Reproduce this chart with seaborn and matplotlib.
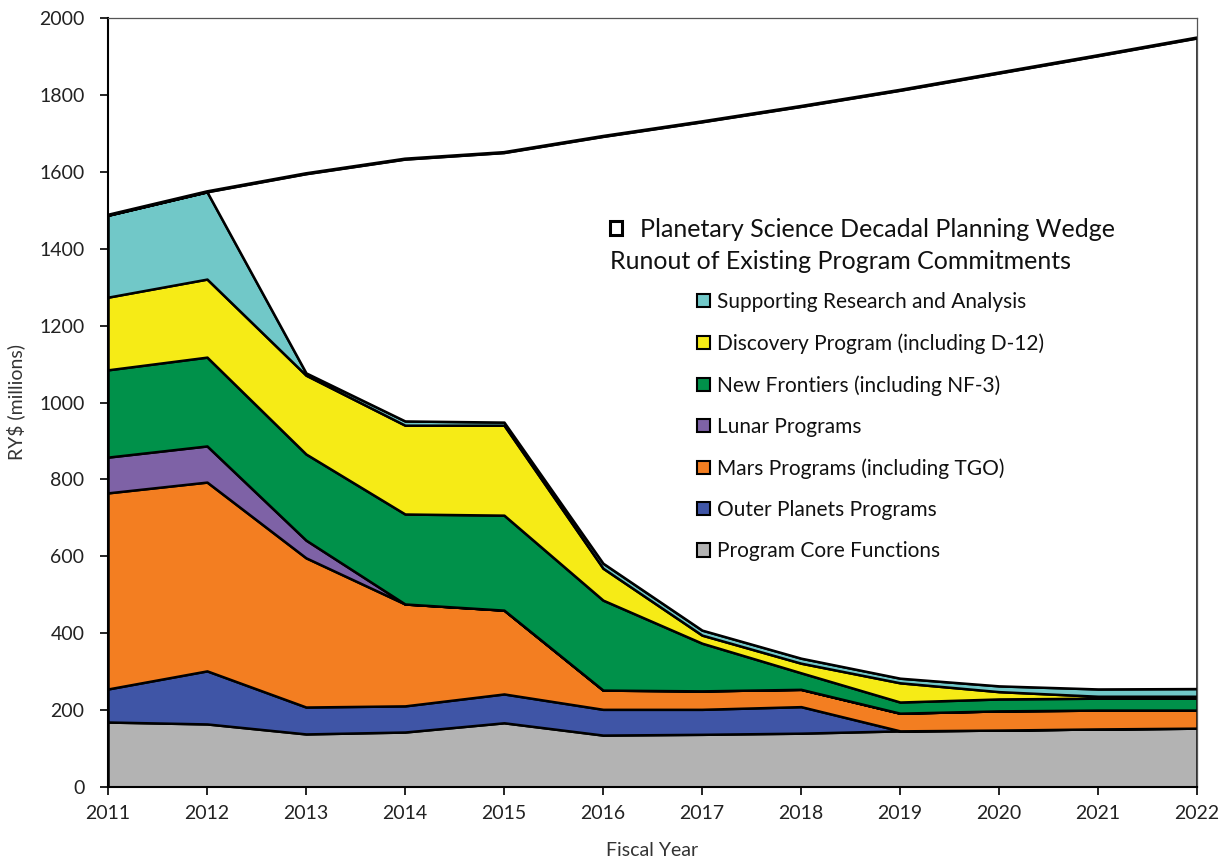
import matplotlib
matplotlib.use("Agg")
import matplotlib.pyplot as plt
import seaborn as sns
import numpy as np
from matplotlib.patches import Patch

years = [2011, 2012, 2013, 2014, 2015, 2016, 2017, 2018, 2019, 2020, 2021, 2022]
core_functions = [169, 164, 138, 143, 167, 135, 137, 140, 146, 148, 151, 153]
outer_planets = [86, 138, 70, 68, 75, 67, 65, 69, 0, 0, 0, 0]
mars_programs = [510, 491, 388, 265, 218, 50, 48, 45, 46, 50, 49, 47]
lunar_programs = [93, 94, 46, 0, 0, 0, 0, 0, 0, 0, 0, 0]
new_frontiers = [227, 231, 224, 234, 247, 234, 124, 43, 29, 31, 31, 31]
discovery = [189, 203, 205, 231, 234, 83, 21, 25, 50, 19, 5, 5]
research_analysis = [213, 227, 6, 11, 8, 13, 13, 13, 12, 15, 19, 20]
total_budget = [1487, 1548, 1595, 1633, 1650, 1692, 1730, 1770, 1812, 1857, 1902, 1948]

labels = ["Program Core Functions", "Outer Planets Programs", "Mars Programs (including TGO)",
          "Lunar Programs", "New Frontiers (including NF-3)", "Discovery Program (including D-12)",
          "Supporting Research and Analysis"]
colors = ["#B3B3B3", "#3F55A6", "#F37E21", "#7E62A6", "#00914A", "#F6EB16", "#71C8C8"]

sns.set_theme(style="ticks")
plt.rcParams["font.family"] = ["Lato", "DejaVu Sans"]

fig = plt.figure(figsize=(12.21, 8.6), dpi=100)
ax = fig.add_axes([108 / 1221, 73 / 860, 1089 / 1221, 769 / 860])

layers = [core_functions, outer_planets, mars_programs, lunar_programs,
          new_frontiers, discovery, research_analysis]
ax.stackplot(years, *layers, colors=colors, edgecolor="black", linewidth=1.8)

committed = np.sum(np.array(layers), axis=0)
ax.fill_between(years, committed, total_budget, facecolor="white",
                edgecolor="black", linewidth=1.8)
sns.lineplot(x=years, y=total_budget, color="black", linewidth=2.4, ax=ax)

ax.set_xlim(2011, 2022)
ax.set_ylim(0, 2000)
ax.set_xticks(years)
ax.set_yticks(range(0, 2001, 200))
ax.tick_params(axis="both", direction="out", length=6, width=1.2, color="black",
               labelsize=14, labelcolor="#222222")
ax.tick_params(axis="y", pad=11)
ax.tick_params(axis="x", pad=7)
for side in ["left", "bottom"]:
    ax.spines[side].set_color("black")
    ax.spines[side].set_linewidth(1.5)
for side in ["top", "right"]:
    ax.spines[side].set_color("#555555")
    ax.spines[side].set_linewidth(0.9)

ax.set_xlabel("Fiscal Year", fontsize=14, color="#333333", labelpad=14)
ax.set_ylabel("RY$ (millions)", fontsize=14, color="#333333", labelpad=10)

# Legend: planning wedge header
wedge_handle = [Patch(facecolor="white", edgecolor="black", linewidth=2.2)]
leg1 = ax.legend(wedge_handle, ["Planetary Science Decadal Planning Wedge"],
                 loc="upper left", bbox_to_anchor=(610 / 1221, 1 - 218 / 860),
                 bbox_transform=fig.transFigure, frameon=False, fontsize=18,
                 handlelength=0.48, handleheight=0.48, handletextpad=0.72,
                 borderpad=0, borderaxespad=0)
ax.add_artist(leg1)
fig.text(610 / 1221, 1 - 262 / 860, "Runout of Existing Program Commitments",
         fontsize=18, color="#111111", va="center", ha="left")

handles = [Patch(facecolor=c, edgecolor="black", linewidth=1.5) for c in colors[::-1]]
leg2 = ax.legend(handles, labels[::-1], loc="upper left",
                 bbox_to_anchor=(697 / 1221, 1 - 292 / 860),
                 bbox_transform=fig.transFigure, frameon=False, fontsize=15,
                 handlelength=0.6, handleheight=0.6, handletextpad=0.38,
                 labelspacing=1.02, borderpad=0, borderaxespad=0)
for t in leg2.get_texts():
    t.set_color("#111111")
for t in leg1.get_texts():
    t.set_color("#111111")

fig.savefig("out.png", dpi=100, facecolor="white")
